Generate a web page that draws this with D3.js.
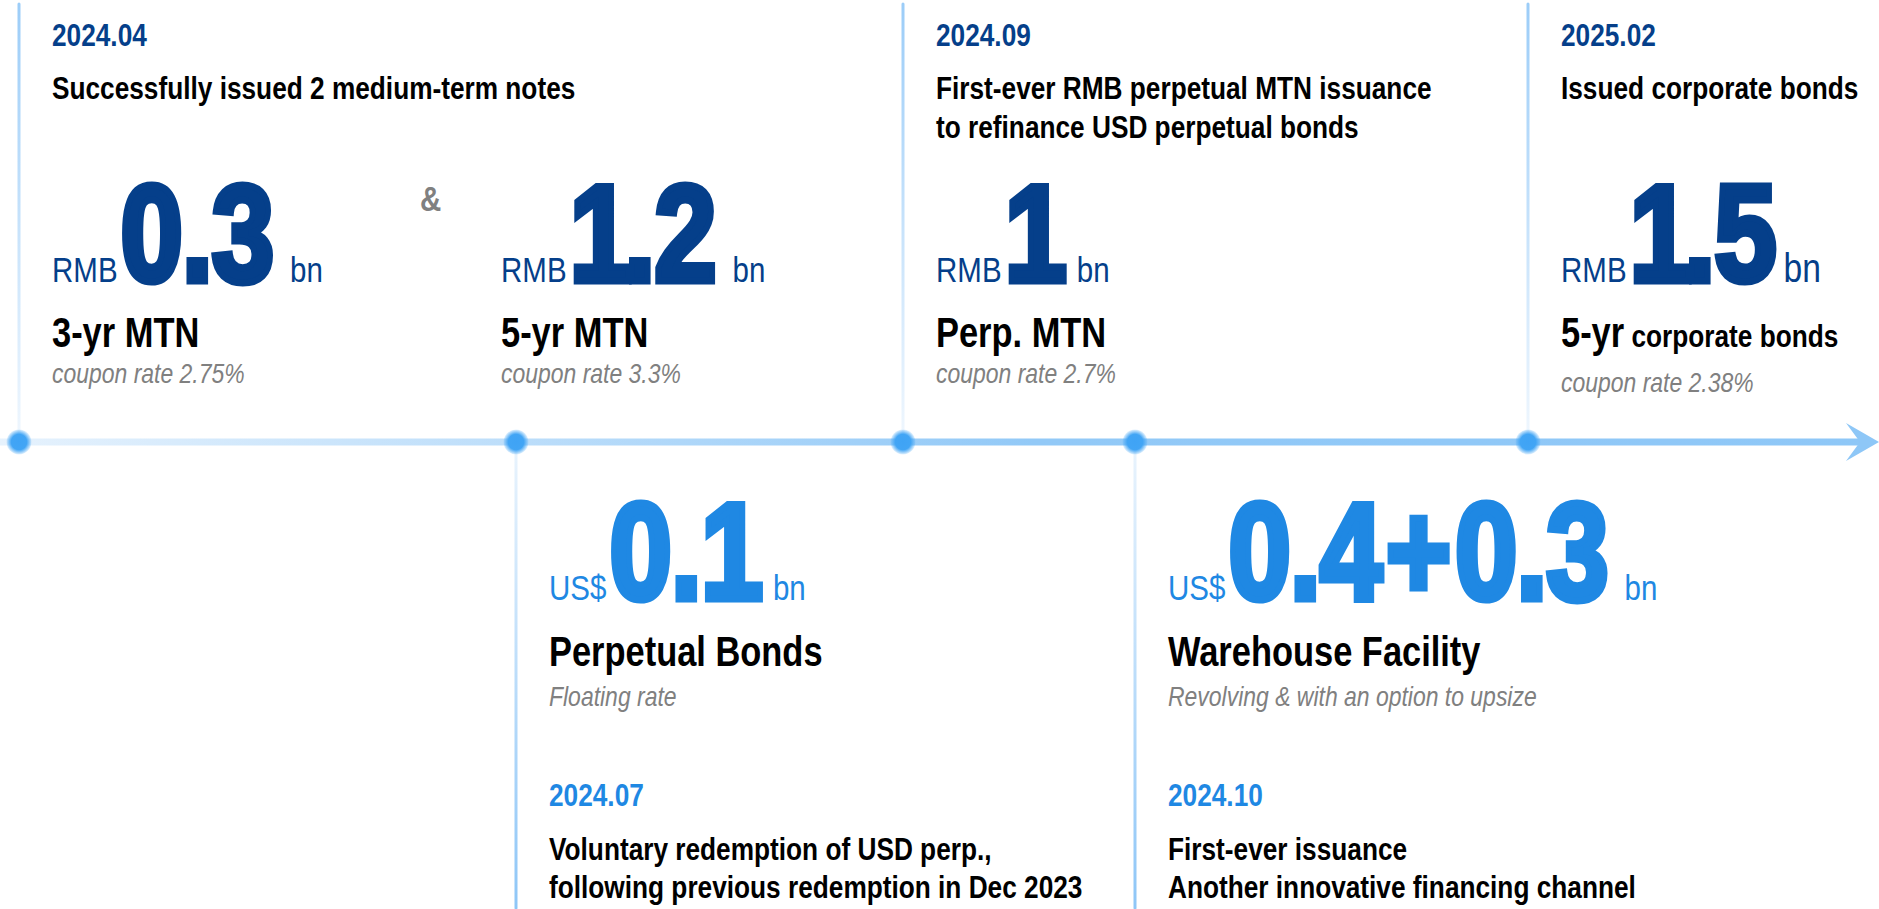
<!DOCTYPE html>
<html>
<head>
<meta charset="utf-8">
<script src="https://cdnjs.cloudflare.com/ajax/libs/d3/7.8.5/d3.min.js"></script>
<style>
  html, body { margin: 0; padding: 0; background: #fff; }
  svg { display: block; }
</style>
</head>
<body>
<div id="chart"></div>
<script>
/*
 * Financing timeline: milestones on a horizontal arrow, amounts raised above and below
 */

// milestones along the arrow, left to right
var milestones = ["2024.04", "2024.07", "2024.09", "2024.10", "2025.02"];
var milestoneSide = ["top", "bottom", "top", "bottom", "top"];

// events written above the arrow
var topDates = ["2024.04", "2024.09", "2025.02"];
var topTitles = [
	["Successfully issued 2 medium-term notes"],
	["First-ever RMB perpetual MTN issuance", "to refinance USD perpetual bonds"],
	["Issued corporate bonds"]
];

// events written below the arrow
var bottomDates = ["2024.07", "2024.10"];
var bottomTexts = [
	["Voluntary redemption of USD perp.,", "following previous redemption in Dec 2023"],
	["First-ever issuance", "Another innovative financing channel"]
];

// one block per amount raised
var amountDates = ["2024.04", "2024.04", "2024.09", "2025.02", "2024.07", "2024.10"];
var currencies = ["RMB", "RMB", "RMB", "RMB", "US$", "US$"];
var amounts = ["0.3", "1.2", "1", "1.5", "0.1", "0.4+0.3"];
var units = ["bn", "bn", "bn", "bn", "bn", "bn"];
var products = ["3-yr MTN", "5-yr MTN", "Perp. MTN", "5-yr", "Perpetual Bonds", "Warehouse Facility"];
var productTails = ["", "", "", "corporate bonds", "", ""];
var notes = ["coupon rate 2.75%", "coupon rate 3.3%", "coupon rate 2.7%", "coupon rate 2.38%",
	"Floating rate", "Revolving & with an option to upsize"];

var width = 1879, height = 909;
var axisY = 442;
var darkBlue = "#053f8a", brightBlue = "#1f88e3", grey = "#808080";

var svg = d3.select("#chart").append("svg")
	.attr("width", width)
	.attr("height", height);

//Check whether the narrow face exists, otherwise squeeze the regular one
var probe = svg.append("text")
	.style("font-size", "100px")
	.style("font-family", "'Liberation Sans Narrow', 'Liberation Sans'")
	.text("MMMMMMMMMM");
var wNarrow = probe.node().getComputedTextLength();
probe.style("font-family", "'Liberation Sans'");
var wWide = probe.node().getComputedTextLength();
probe.remove();
var hasNarrow = wNarrow < wWide * 0.9;
var FONT = hasNarrow ? "'Liberation Sans Narrow', 'Liberation Sans', sans-serif" : "'Liberation Sans', sans-serif";
var SX = hasNarrow ? 1 : 0.82;

// x position of each milestone on the arrow (spacing follows the text, not time)
var x = d3.scaleOrdinal()
	.domain(milestones)
	.range([19, 516, 903, 1135, 1528]);
var inset = 33;

/*
 * Gradients
 */
var defs = svg.append("defs");

var axisGrad = defs.append("linearGradient")
	.attr("id", "axisGrad")
	.attr("gradientUnits", "userSpaceOnUse")
	.attr("x1", 0).attr("x2", width).attr("y1", 0).attr("y2", 0);
axisGrad.append("stop").attr("offset", 0).attr("stop-color", "#e6f2fd");
axisGrad.append("stop").attr("offset", 0.55).attr("stop-color", "#92c9f7");
axisGrad.append("stop").attr("offset", 1).attr("stop-color", "#8ec7f7");

var upGrad = defs.append("linearGradient")
	.attr("id", "upGrad")
	.attr("gradientUnits", "userSpaceOnUse")
	.attr("x1", 0).attr("x2", 0).attr("y1", 4).attr("y2", axisY);
upGrad.append("stop").attr("offset", 0).attr("stop-color", "#9ccdf8");
upGrad.append("stop").attr("offset", 1).attr("stop-color", "#f0f7fe");

var downGrad = defs.append("linearGradient")
	.attr("id", "downGrad")
	.attr("gradientUnits", "userSpaceOnUse")
	.attr("x1", 0).attr("x2", 0).attr("y1", axisY).attr("y2", height);
downGrad.append("stop").attr("offset", 0).attr("stop-color", "#eaf4fd");
downGrad.append("stop").attr("offset", 1).attr("stop-color", "#8ec6f7");

var dotGrad = defs.append("radialGradient").attr("id", "dotGrad");
dotGrad.append("stop").attr("offset", 0).attr("stop-color", "#3fa3f5");
dotGrad.append("stop").attr("offset", 0.62).attr("stop-color", "#42a5f5");
dotGrad.append("stop").attr("offset", 1).attr("stop-color", "#42a5f5").attr("stop-opacity", 0.15);

/*
 * Arrow, stems and dots
 */
svg.selectAll("line.stem")
	.data(milestones)
	.enter().append("line")
	.attr("class", "stem")
	.attr("x1", function(d) { return x(d); })
	.attr("x2", function(d) { return x(d); })
	.attr("y1", function(d, i) { return milestoneSide[i] === "top" ? 4 : axisY; })
	.attr("y2", function(d, i) { return milestoneSide[i] === "top" ? axisY : height - 1; })
	.attr("stroke", function(d, i) { return milestoneSide[i] === "top" ? "url(#upGrad)" : "url(#downGrad)"; })
	.attr("stroke-width", 3)
	.attr("stroke-linecap", "round");

var tipX = width;
svg.append("line")
	.attr("x1", 0).attr("x2", tipX - 18)
	.attr("y1", axisY).attr("y2", axisY)
	.attr("stroke", "url(#axisGrad)")
	.attr("stroke-width", 7);

svg.append("path")
	.attr("d", d3.line()([[tipX - 33, axisY - 19], [tipX, axisY], [tipX - 33, axisY + 19], [tipX - 19, axisY]]) + "Z")
	.attr("fill", "#8ec7f7");

svg.selectAll("circle.dot")
	.data(milestones)
	.enter().append("circle")
	.attr("class", "dot")
	.attr("cx", function(d) { return x(d); })
	.attr("cy", axisY)
	.attr("r", 12.5)
	.attr("fill", "url(#dotGrad)");

/*
 * Text helpers
 */
function label(parent, px, py, str, size, weight, color, italic){
	return parent.append("text")
		.attr("transform", "translate(" + px + "," + py + ") scale(" + SX + ",1)")
		.style("font-family", FONT)
		.style("font-size", size + "px")
		.style("font-weight", weight || "normal")
		.style("font-style", italic ? "italic" : "normal")
		.attr("fill", color)
		.text(str);
}

//On-screen width of a text made by label()
function textWidth(t){
	return t.node().getComputedTextLength() * SX;
}

function lines(parent, px, py, list, lineHeight, size, color){
	list.forEach(function(str, i){
		label(parent, px, py + i * lineHeight, str, size, "bold", color);
	});
}

//Per-glyph shifts: tighten after the wide "1", open up round the "+"
function kern(chars){
	return chars.map(function(c, k){
		var prev = chars[k - 1];
		var dx = 0;
		if(prev === "1") dx -= 8;
		if(c === "+" || prev === "+") dx += 6;
		return dx;
	}).join(" ");
}

// top events
topDates.forEach(function(d, i){
	var px = x(d) + inset;
	label(svg, px, 46, d, 32, "bold", darkBlue);
	lines(svg, px, 99, topTitles[i], 39, 32, "#000");
});

// bottom events
bottomDates.forEach(function(d, i){
	var px = x(d) + inset;
	label(svg, px, 806, d, 32, "bold", brightBlue);
	lines(svg, px, 860, bottomTexts[i], 38, 32, "#000");
});

/*
 * Amount blocks
 */
var topRows = {currency: 282, product: 347, note: 383};
var bottomRows = {currency: 600, product: 666, note: 706};
var seen = {};

amounts.forEach(function(value, i){
	var date = amountDates[i];
	var isTop = milestoneSide[milestones.indexOf(date)] === "top";
	var rows = isTop ? topRows : bottomRows;
	var color = isTop ? darkBlue : brightBlue;
	//a second block on the same date sits in the next column
	var slot = seen[date] || 0;
	seen[date] = slot + 1;
	var px = x(date) + inset + slot * 449;

	var cur = label(svg, px, rows.currency, currencies[i], 36, "normal", color);
	var vx = px + textWidth(cur) + 3;

	//big figure: heavy narrow face thickened with its own outline
	var chars = value.split("");
	var big = label(svg, vx, rows.currency - 1, value, 137, "bold", color)
		.attr("dx", kern(chars))
		.style("letter-spacing", "-1.5px")
		.attr("stroke", color)
		.attr("stroke-width", 7)
		.attr("stroke-linejoin", "miter");
	var bb = big.node().getBBox();
	var ux = vx + (bb.x + bb.width) * SX + 17;
	if(chars[chars.length - 1] === "1") ux -= 6;

	var unit = label(svg, ux, rows.currency, units[i], 36, "normal", color);
	if(productTails[i]){
		//the corporate bond figure uses a wider, larger unit set closer in
		unit.style("font-family", "'Liberation Sans', sans-serif").style("font-size", "41px")
			.attr("transform", "translate(" + (ux - 9) + "," + rows.currency + ") scale(" + SX + ",1)");
	}

	var p = label(svg, px, rows.product, "", 42, "bold", "#000");
	p.append("tspan").text(products[i]);
	if(productTails[i]){
		p.append("tspan").style("font-size", "32px").text(" " + productTails[i]);
	}

	var noteY = rows.note + (productTails[i] ? 9 : 0);
	label(svg, px, noteY, notes[i], 28, "normal", grey, true);
});

// the "&" joining the two April notes
label(svg, x("2024.04") + 401, 211, "&", 36, "bold", grey);
</script>
</body>
</html>
